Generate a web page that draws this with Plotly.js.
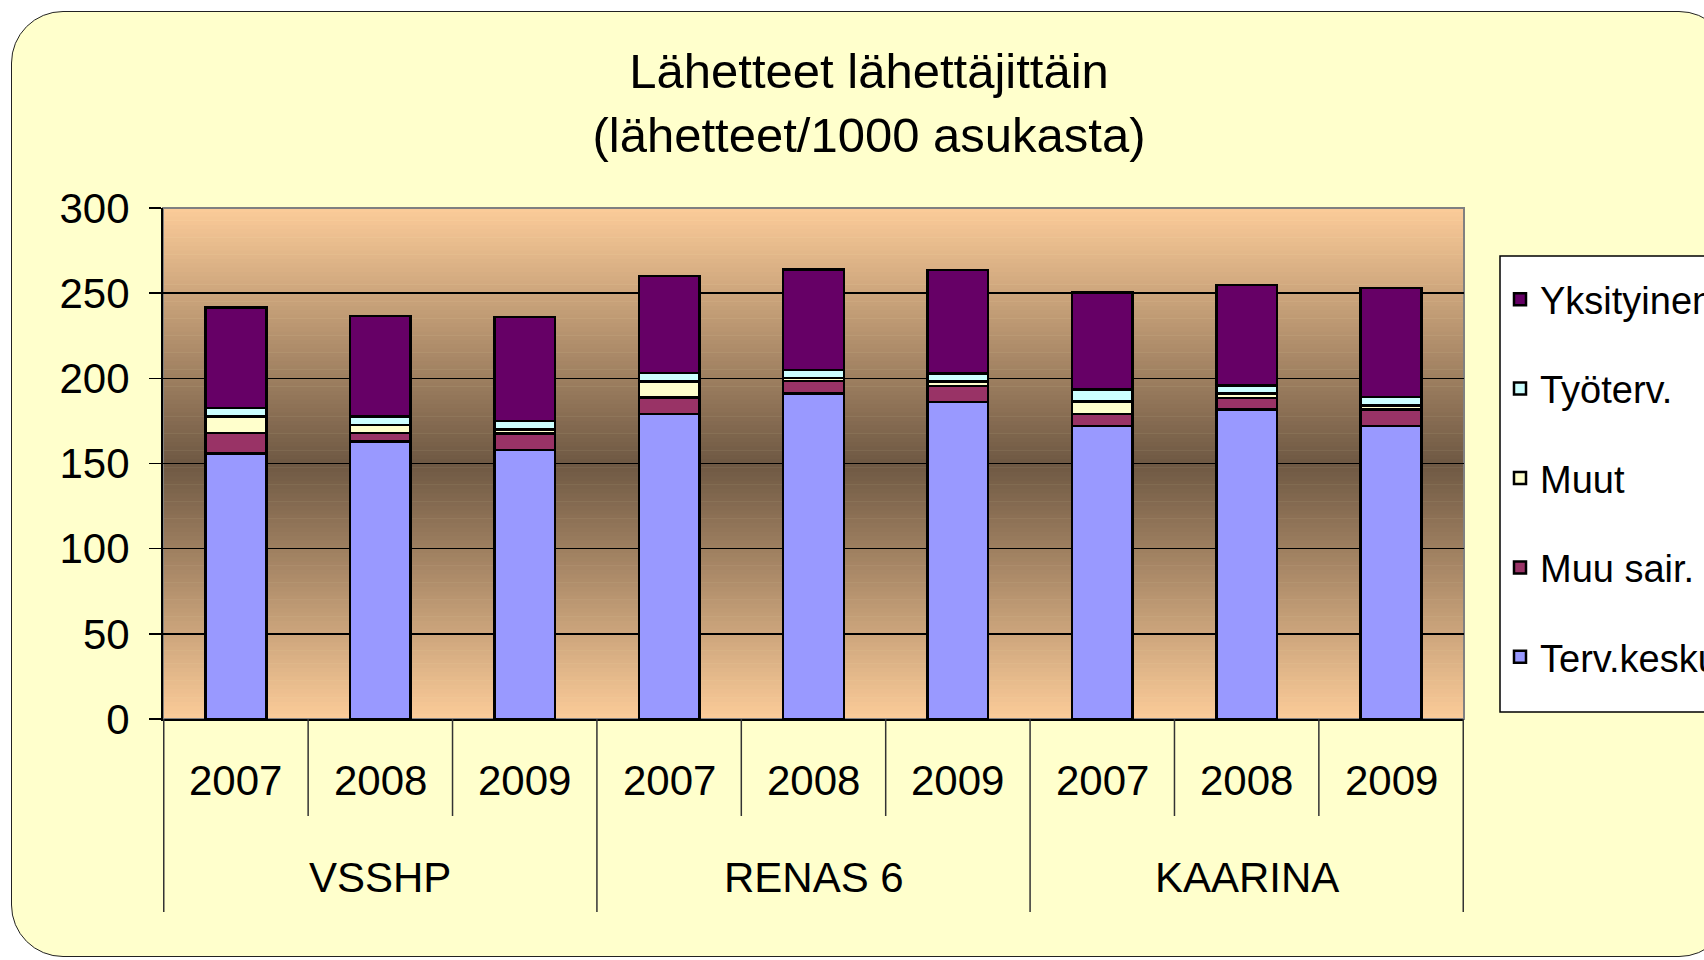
<!DOCTYPE html>
<html>
<head>
<meta charset="utf-8">
<script src="https://cdn.plot.ly/plotly-3.0.1.min.js"></script>
<style>
  html, body { margin: 0; padding: 0; background: #ffffff; width: 1704px; height: 960px; overflow: hidden; }
  #frame { position: absolute; left: 11px; top: 11px; width: 1720px; height: 946px;
           background: #FFFFCC; border: 1.5px solid #222; border-radius: 52px; box-sizing: border-box; }
  #chart { position: absolute; left: 0; top: 0; width: 1704px; height: 960px; }
</style>
</head>
<body>
<div id="frame"></div>
<div id="chart"></div>
<script>
// ---- data ----
const groups = ['VSSHP', 'RENAS 6', 'KAARINA'];
const years = ['2007', '2008', '2009'];
const seriesNames = ['Terv.keskus', 'Muu sair.', 'Muut', 'Työterv.', 'Yksityinen'];
const tervKesk   = [156, 163, 158, 179, 191, 186, 172, 181.6, 172];
const muuSair    = [12, 5, 9.5, 9.7, 7.3, 9.4, 7, 7, 9.6];
const muut       = [9.5, 4.7, 2.5, 9.3, 2, 2.8, 7.5, 2.5, 2.6];
const tyoterv    = [5, 4.8, 5, 5, 4.7, 4.5, 7, 4.8, 4.7];
const yksityinen = [59, 59, 61, 57, 59, 61, 57, 59, 64];
const seriesColors = ['#9999FF', '#993366', '#FFFFCC', '#CCFFFF', '#660066'];

// ---- build categories ----
const cats = [];
groups.forEach(g => years.forEach(y => cats.push(g + ' ' + y)));

const seriesValues = [tervKesk, muuSair, muut, tyoterv, yksityinen];
const traces = seriesValues.map((vals, i) => ({
  type: 'bar',
  name: seriesNames[i],
  x: cats,
  y: vals,
  legendgroup: 'g' + i,
  legendrank: seriesValues.length - i,
  marker: { color: seriesColors[i], line: { color: '#000000', width: 2.5 } },
  hoverinfo: 'name+y'
}));

// ---- background gradient (plot area) ----
const shapes = [];
const nBands = 120;
const peach = [252, 204, 153], dark = [110, 88, 67];
for (let k = 0; k < nBands; k++) {
  const t0 = k / nBands, t1 = (k + 1) / nBands, tm = (t0 + t1) / 2;
  const d = Math.abs(tm - 0.5) * 2;
  const c = peach.map((p, j) => Math.round(dark[j] + d * (p - dark[j])));
  shapes.push({ type: 'rect', xref: 'paper', yref: 'paper', x0: 0, x1: 1, y0: t0, y1: t1 + 0.001,
    fillcolor: 'rgb(' + c.join(',') + ')', line: { width: 0 }, layer: 'below' });
}
// plot area border (top/right grey)
shapes.push({ type: 'rect', xref: 'paper', yref: 'paper', x0: 0, x1: 1, y0: 0, y1: 1,
  line: { color: '#808080', width: 2 }, fillcolor: 'rgba(0,0,0,0)', layer: 'between' });

// legend box
const plotH = 511, plotW = 1301;
shapes.push({ type: 'rect', xref: 'paper', yref: 'paper',
  x0: (1500 - 163) / plotW, x1: (1760 - 163) / plotW, y0: (719 - 712) / plotH, y1: (719 - 256) / plotH,
  fillcolor: '#ffffff', line: { color: '#000000', width: 1.5 }, layer: 'above' });

// ---- category dividers and labels ----
const annotations = [];
const nPer = years.length;
for (let i = 0; i <= cats.length; i++) {
  const isGroup = (i % nPer === 0);
  shapes.push({ type: 'line', xref: 'x', yref: 'paper', x0: i - 0.5, x1: i - 0.5,
    y0: 0, y1: -(isGroup ? 193 : 97) / plotH, line: { color: '#333333', width: 1.5 } });
}
cats.forEach((c, i) => {
  annotations.push({ xref: 'x', yref: 'paper', x: c, y: 0, yanchor: 'middle', yshift: -61,
    text: years[i % nPer], showarrow: false, font: { size: 42, color: '#000' } });
});
groups.forEach((g, gi) => {
  annotations.push({ xref: 'x', yref: 'paper', x: gi * nPer + (nPer - 1) / 2, y: 0, yanchor: 'middle', yshift: -158,
    text: g, showarrow: false, font: { size: 42, color: '#000' } });
});

const layout = {
  width: 1704, height: 960,
  paper_bgcolor: 'rgba(0,0,0,0)',
  plot_bgcolor: 'rgba(0,0,0,0)',
  font: { family: 'Liberation Sans, Arial, sans-serif', color: '#000' },
  margin: { l: 163, r: 240, t: 208, b: 241, autoexpand: false },
  title: { text: 'Lähetteet lähettäjittäin<br>(lähetteet/1000 asukasta)',
    x: 0.51, xref: 'container', xanchor: 'center', y: 0.908, yref: 'container', yanchor: 'top',
    font: { size: 49, color: '#000' } },
  barmode: 'stack',
  bargap: 0.58,
  xaxis: { type: 'category', showticklabels: false, ticks: '', showline: true, linecolor: '#000', linewidth: 2,
    showgrid: false, zeroline: false, fixedrange: true },
  yaxis: { range: [0, 300], dtick: 50, tick0: 0, showline: true, linecolor: '#000', linewidth: 2,
    ticks: 'outside', ticklen: 12, tickcolor: '#000', tickwidth: 1.5, ticklabelstandoff: 11,
    tickfont: { size: 42, color: '#000' }, showgrid: true, gridcolor: '#000', gridwidth: 1.5,
    zeroline: false, fixedrange: true },
  legend: { x: (1500 - 163) / plotW, xanchor: 'left', y: (719 - 268) / plotH, yanchor: 'top', xref: 'paper', yref: 'paper',
    bgcolor: 'rgba(0,0,0,0)', borderwidth: 0,
    font: { size: 38, color: '#000' }, traceorder: 'grouped', tracegroupgap: 37,
    itemwidth: 30 },
  shapes: shapes,
  annotations: annotations,
  showlegend: true
};

Plotly.newPlot('chart', traces, layout, { displayModeBar: false, staticPlot: true });
</script>
</body>
</html>
